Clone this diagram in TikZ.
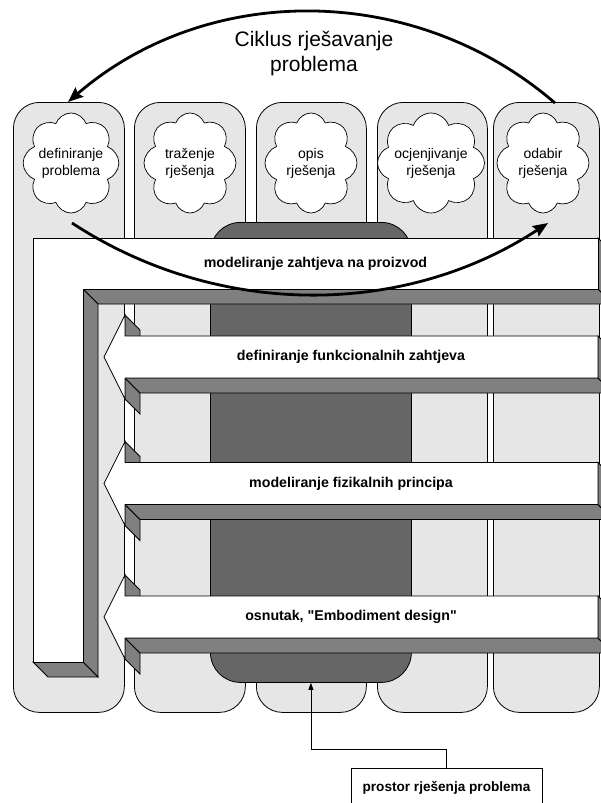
\documentclass[tikz,border=0pt]{standalone}
\usepackage{fontspec}
\setmainfont{Liberation Sans}[Ligatures=TeXOff]
\usetikzlibrary{shapes.symbols,arrows.meta}
\definecolor{colbg}{HTML}{E6E6E6}
\definecolor{darkbg}{HTML}{666666}
\definecolor{sidegray}{HTML}{808080}
\begin{document}
\begin{tikzpicture}[x=1pt,y=-1pt,
  colbox/.style={draw=black, fill=colbg, rounded corners=26pt, line width=0.8pt, minimum height=610pt, inner sep=0pt, anchor=north west},
  darkbox/.style={draw=black, fill=darkbg, rounded corners=30pt, line width=0.8pt, inner sep=0pt, anchor=north west},
  cloudbox/.style={cloud, cloud puffs=8, cloud puff arc=140, cloud ignores aspect, draw=black, fill=white, line width=0.7pt, minimum width=92pt, minimum height=100pt, inner sep=0pt, align=center, font=\fontsize{14}{17}\selectfont},
  face/.style={draw=black, fill=white, line width=0.8pt},
  side/.style={draw=black, fill=sidegray, line width=0.8pt},
  bartext/.style={font=\fontsize{14.2}{17}\selectfont\bfseries, inner sep=0pt},
  cyc/.style={line width=2.8pt, -{Stealth[length=15pt,width=12pt,inset=2pt]}},
  conn/.style={line width=0.7pt, -{Triangle[length=7pt,width=5pt]}}
]
\useasboundingbox (0,0) rectangle (601,803);
\clip (0,0) rectangle (601,803);
% columns
\node[colbox, minimum width=111pt] (c1) at (13,102) {};
\node[colbox, minimum width=111pt] (c2) at (134,102) {};
\node[colbox, minimum width=110pt] (c3) at (256,102) {};
\node[colbox, minimum width=110pt] (c4) at (377,102) {};
\node[colbox, minimum width=106pt] (c5) at (493,102) {};
% solution space
\node[darkbox, minimum width=201pt, minimum height=460pt] (dark) at (210,222) {};
% clouds
\node[cloudbox] (k1) at (71,163) {definiranje\\problema};
\node[cloudbox] (k2) at (190,163) {traženje\\rješenja};
\node[cloudbox] (k3) at (311,163) {opis\\rješenja};
\node[cloudbox] (k4) at (431,163) {ocjenjivanje\\rješenja};
\node[cloudbox] (k5) at (543,163) {odabir\\rješenja};
% L-shaped bar
\draw[side] (83,289) -- (598,289) -- (613,304) -- (98,304) -- cycle;
\draw[side] (598,238) -- (613,253) -- (613,304) -- (598,289) -- cycle;
\draw[side] (83,289) -- (98,304) -- (98,677) -- (83,662) -- cycle;
\draw[side] (33,662) -- (83,662) -- (98,677) -- (48,677) -- cycle;
\draw[face] (33,238) -- (598,238) -- (598,289) -- (83,289) -- (83,662) -- (33,662) -- cycle;
\node[bartext] (b0) at (315.5,263.5) {modeliranje zahtjeva na proizvod};
% arrows
\foreach \c/\nm/\txt in {357/b1/definiranje funkcionalnih zahtjeva, 483.5/b2/modeliranje fizikalnih principa, 617/b3/{osnutak, "Embodiment design"}}{
  \draw[side] (125,{\c-42}) -- (140,{\c-27}) -- (140,{\c-6}) -- (125,{\c-21}) -- cycle;
  \draw[side] (125,{\c+21}) -- (140,{\c+36}) -- (140,{\c+57}) -- (125,{\c+42}) -- cycle;
  \draw[side] (125,{\c+21}) -- (598,{\c+21}) -- (613,{\c+36}) -- (140,{\c+36}) -- cycle;
  \draw[side] (598,{\c-21}) -- (613,{\c-6}) -- (613,{\c+36}) -- (598,{\c+21}) -- cycle;
  \draw[face] (104,\c) -- (125,{\c-42}) -- (125,{\c-21}) -- (598,{\c-21}) -- (598,{\c+21}) -- (125,{\c+21}) -- (125,{\c+42}) -- cycle;
  \node[bartext] (\nm) at (351,\c) {\txt};
}
% cycle arcs
\coordinate (arcS) at (555,103);
\coordinate (arcE) at (68,102);
\draw[cyc] (arcS) .. controls (415.2,-17.7) and (207.8,-18.7) .. (arcE);
\coordinate (lowS) at (72,223);
\coordinate (lowE) at (548,223);
\draw[cyc] (lowS) .. controls (217,318) and (403,318) .. (lowE);
\node[font=\fontsize{21}{25}\selectfont, align=center, inner sep=0pt] (title) at (314,54) {Ciklus rješavanje\\problema};
% bottom box
\node[draw=black, fill=white, line width=0.8pt, minimum width=191pt, minimum height=40pt, anchor=north, inner sep=0pt] (prostor) at (446.5,768) {};
\node[font=\fontsize{13.6}{16}\selectfont\bfseries, inner sep=0pt] (ptext) at (446.5,788) {prostor rješenja problema};
\draw[conn] (prostor.north) -- ++(0,-19) -| (dark.south);
\end{tikzpicture}
\end{document}
